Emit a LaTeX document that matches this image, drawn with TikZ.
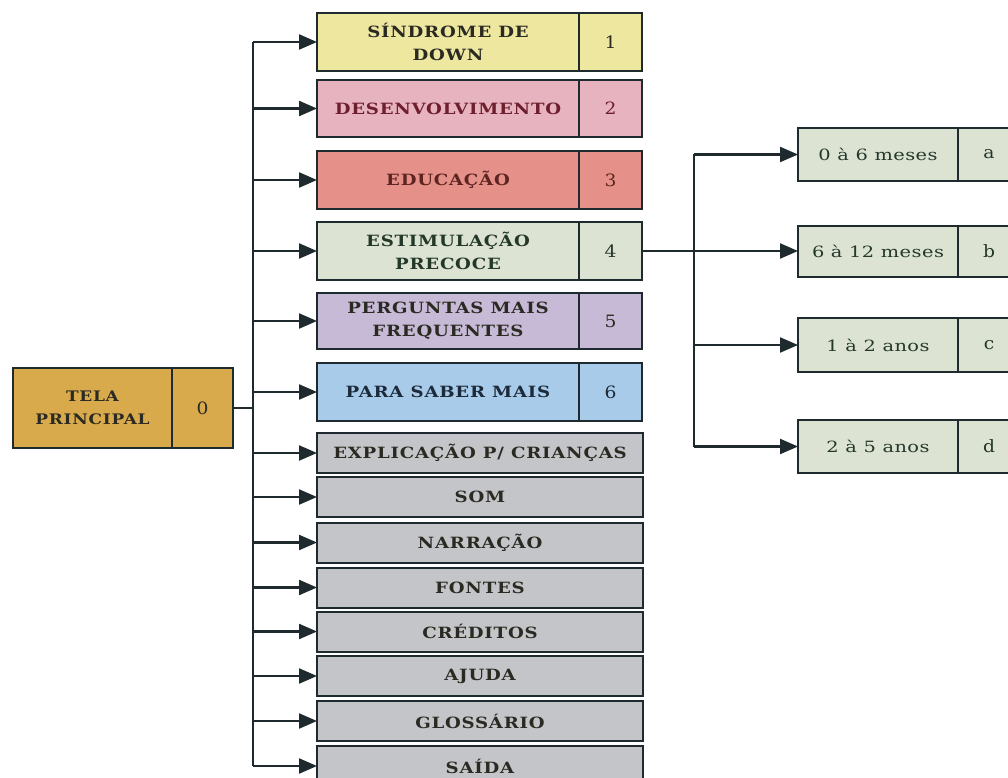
\documentclass[tikz,border=0pt]{standalone}
\usepackage{fontspec}
\usetikzlibrary{arrows.meta}
\newfontfamily\bxfont[FakeStretch=1.17,LetterSpace=5]{DejaVu Serif}
\newfontfamily\rgfont[FakeStretch=1.25,LetterSpace=3]{DejaVu Serif}
\newfontfamily\nmfont[FakeStretch=1.1]{DejaVu Serif}
\definecolor{linecol}{HTML}{1E2A2E}
\definecolor{cyel}{HTML}{EDE7A0}
\definecolor{cpink}{HTML}{E6B3BF}
\definecolor{csal}{HTML}{E5918A}
\definecolor{cgrn}{HTML}{DCE3D3}
\definecolor{clav}{HTML}{C7BAD6}
\definecolor{cblu}{HTML}{A8CBEA}
\definecolor{cgry}{HTML}{C4C5C9}
\definecolor{cgold}{HTML}{D9AA4C}
\definecolor{tdark}{HTML}{2A2A22}
\definecolor{tred}{HTML}{6E1E2C}
\definecolor{tbrn}{HTML}{5E2420}
\definecolor{tgrn}{HTML}{24382A}
\definecolor{tnavy}{HTML}{1C2A3A}
\begin{document}
\begin{tikzpicture}[x=1pt,y=-1pt,
  cell/.style={draw=linecol, line width=2pt, inner sep=0pt, outer sep=0pt, align=center},
  lbl/.style={cell, font=\bxfont\bfseries\fontsize{15.5}{23}\selectfont},
  tlbl/.style={cell, font=\bxfont\bfseries\fontsize{14.5}{23}\selectfont},
  num/.style={cell, font=\nmfont\fontsize{17}{18}\selectfont},
  sub/.style={cell, font=\rgfont\fontsize{15.5}{17}\selectfont, fill=cgrn, text=tgrn, minimum width=160pt},
  subn/.style={cell, font=\nmfont\fontsize{17}{18}\selectfont, fill=cgrn, text=tgrn, minimum width=62pt},
  mid/.style={minimum width=262pt},
  midn/.style={minimum width=63pt},
  gry/.style={lbl, fill=cgry, text=tdark, minimum width=326pt, minimum height=40pt},
  conn/.style={draw=linecol, line width=2.2pt},
  arr/.style={conn, -{Triangle[length=18pt,width=15pt]}}
]
\fill[white] (0,0) rectangle (1008,778);
\clip (0,0) rectangle (1008,778);

% main node
\node[tlbl, fill=cgold, text=tdark, minimum width=159pt, minimum height=80pt] (t0) at (92.5,408) {TELA\\PRINCIPAL};
\node[num, fill=cgold, text=tdark, minimum width=61pt, minimum height=80pt] (t0n) at (202.5,408) {0};

% coloured boxes
\node[lbl, mid, fill=cyel, text=tdark, minimum height=58pt] (n1) at (448,42) {SÍNDROME DE\\DOWN};
\node[num, midn, fill=cyel, text=tdark, minimum height=58pt] (n1n) at (610.5,42) {1};
\node[lbl, mid, fill=cpink, text=tred, minimum height=57pt] (n2) at (448,108.5) {DESENVOLVIMENTO};
\node[num, midn, fill=cpink, text=tred, minimum height=57pt] (n2n) at (610.5,108.5) {2};
\node[lbl, mid, fill=csal, text=tbrn, minimum height=58pt] (n3) at (448,180) {EDUCAÇÃO};
\node[num, midn, fill=csal, text=tbrn, minimum height=58pt] (n3n) at (610.5,180) {3};
\node[lbl, mid, fill=cgrn, text=tgrn, minimum height=58pt] (n4) at (448,251) {ESTIMULAÇÃO\\PRECOCE};
\node[num, midn, fill=cgrn, text=tgrn, minimum height=58pt] (n4n) at (610.5,251) {4};
\node[lbl, mid, fill=clav, text=tdark, minimum height=56pt] (n5) at (448,321) {PERGUNTAS MAIS\\FREQUENTES};
\node[num, midn, fill=clav, text=tdark, minimum height=56pt] (n5n) at (610.5,321) {5};
\node[lbl, mid, fill=cblu, text=tnavy, minimum height=58pt] (n6) at (448,392) {PARA SABER MAIS};
\node[num, midn, fill=cblu, text=tnavy, minimum height=58pt] (n6n) at (610.5,392) {6};

% grey boxes
\node[gry] (g1) at (480,453) {EXPLICAÇÃO P/ CRIANÇAS};
\node[gry] (g2) at (480,497) {SOM};
\node[gry] (g3) at (480,542.5) {NARRAÇÃO};
\node[gry] (g4) at (480,587.5) {FONTES};
\node[gry] (g5) at (480,631.5) {CRÉDITOS};
\node[gry] (g6) at (480,676) {AJUDA};
\node[gry] (g7) at (480,721) {GLOSSÁRIO};
\node[gry] (g8) at (480,766) {SAÍDA};

% sub boxes
\node[sub, minimum height=53pt] (sa) at (878,154.5) {0 à 6 meses};
\node[subn, minimum height=53pt] (san) at (989,154.5) {a};
\node[sub, minimum height=51pt] (sb) at (878,251) {6 à 12 meses};
\node[subn, minimum height=51pt] (sbn) at (989,251) {b};
\node[sub, minimum height=54pt] (sc) at (878,345) {1 à 2 anos};
\node[subn, minimum height=54pt] (scn) at (989,345) {c};
\node[sub, minimum height=53pt] (sd) at (878,446.5) {2 à 5 anos};
\node[subn, minimum height=53pt] (sdn) at (989,446.5) {d};

% left bus
\coordinate (bus) at (253,0);
\draw[conn] (n1.west -| bus) -- (g8.west -| bus);
\draw[conn] (t0n.east) -- (t0n.east -| bus);
\foreach \n in {n1,n2,n3,n4,n5,n6,g1,g2,g3,g4,g5,g6,g7,g8}
  \draw[arr] (\n.west -| bus) -- (\n.west);

% right bus
\coordinate (rbus) at (694,0);
\draw[conn] (sa.west -| rbus) -- (sd.west -| rbus);
\draw[arr] (n4n.east) -- (sb.west);
\foreach \n in {sa,sc,sd}
  \draw[arr] (\n.west -| rbus) -- (\n.west);
\end{tikzpicture}
\end{document}
